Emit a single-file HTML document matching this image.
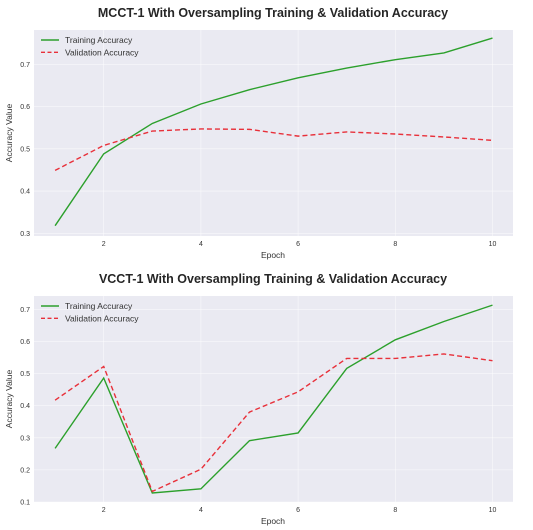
<!DOCTYPE html>
<html><head><meta charset="utf-8"><style>
body{margin:0;background:#fff;}
svg{display:block;font-family:"Liberation Sans",sans-serif;}
</style></head><body>
<svg id="s" width="533" height="530"></svg>
<script>
const epochs=[1,2,3,4,5,6,7,8,9,10];
const mcctTrain=[0.318,0.488,0.56,0.606,0.64,0.668,0.691,0.711,0.727,0.762];
const mcctVal=[0.449,0.508,0.542,0.547,0.546,0.530,0.540,0.535,0.528,0.520];
const vcctTrain=[0.267,0.486,0.128,0.141,0.291,0.315,0.516,0.605,0.662,0.713];
const vcctVal=[0.417,0.522,0.133,0.202,0.380,0.443,0.547,0.547,0.561,0.540];
const xTicks=[2,4,6,8,10];
const mcctYTicks=[0.3,0.4,0.5,0.6,0.7];
const vcctYTicks=[0.1,0.2,0.3,0.4,0.5,0.6,0.7];
const NS="http://www.w3.org/2000/svg";
const svg=document.getElementById('s');
function mk(t,a,p){const e=document.createElementNS(NS,t);for(const k in a)e.setAttribute(k,a[k]);(p||svg).appendChild(e);return e;}
function chart(cfg){
  const g=mk('g',{});
  
  
  const L=34,R=513,T=cfg.top,B=cfg.bottom;
  const xs=e=>55.1+(e-1)*48.6;
  const ys=v=>cfg.y0+(v-cfg.v0)*(cfg.y1-cfg.y0)/(cfg.v1-cfg.v0);
  const bg=mk('rect',{x:L,y:T,width:R-L,height:B-T,fill:'#eaeaf2'},g);
  
  
  xTicks.forEach(t=>{
    mk('line',{x1:xs(t),x2:xs(t),y1:T,y2:B,stroke:'#fff','stroke-width':0.6,'stroke-opacity':0.7},g);
    const tx=mk('text',{x:xs(t),y:B+10,'font-size':7,fill:'#333','text-anchor':'middle'},g);tx.textContent=t;
    
    
  });
  cfg.yTicks.forEach(t=>{
    mk('line',{x1:L,x2:R,y1:ys(t),y2:ys(t),stroke:'#fff','stroke-width':0.6,'stroke-opacity':0.7},g);
    const tx=mk('text',{x:L-4,y:ys(t)+2.5,'font-size':7,fill:'#333','text-anchor':'end'},g);tx.textContent=t.toFixed(1);
    
    
  });
  const series=[[cfg.train,'#2ca02c','','training-line'],[cfg.val,'#e8303a','5,3','validation-line']];
  series.forEach(s=>{
    const p=mk('polyline',{points:epochs.map((e,i)=>xs(e)+','+ys(s[0][i])).join(' '),fill:'none',stroke:s[1],'stroke-width':1.4,'stroke-dasharray':s[2]},g);
    
    
  });
  const ti=mk('text',{x:273,y:cfg.titleY,'font-size':12.5,'font-weight':'bold',fill:'#262626','text-anchor':'middle'},g);ti.textContent=cfg.title;
  
  
  const xl=mk('text',{x:273,y:B+22,'font-size':8.5,fill:'#333','text-anchor':'middle'},g);xl.textContent='Epoch';
  
  
  const ym=(T+B)/2;
  const yl=mk('text',{x:12,y:ym,'font-size':8.5,fill:'#333','text-anchor':'middle',transform:`rotate(-90 12 ${ym})`},g);yl.textContent='Accuracy Value';
  
  
  const lg=mk('g',{},g);
  
  
  [['Training Accuracy','#2ca02c',''],['Validation Accuracy','#e8303a','4,2.5']].forEach((it,i)=>{
    const yy=T+10+i*12.3;
    mk('line',{x1:41,x2:59,y1:yy,y2:yy,stroke:it[1],'stroke-width':1.4,'stroke-dasharray':it[2]},lg);
    const t=mk('text',{x:65,y:yy+3,'font-size':8.5,fill:'#333'},lg);t.textContent=it[0];
    
    
  });
}
chart({name:'mcct-chart',title:'MCCT-1 With Oversampling Training & Validation Accuracy',top:30,bottom:236,titleY:17,v0:0.3,y0:233.3,v1:0.7,y1:64.3,yTicks:mcctYTicks,train:mcctTrain,val:mcctVal});
chart({name:'vcct-chart',title:'VCCT-1 With Oversampling Training & Validation Accuracy',top:296,bottom:502,titleY:283,v0:0.1,y0:502,v1:0.7,y1:309.3,yTicks:vcctYTicks,train:vcctTrain,val:vcctVal});
</script>
</body></html>
